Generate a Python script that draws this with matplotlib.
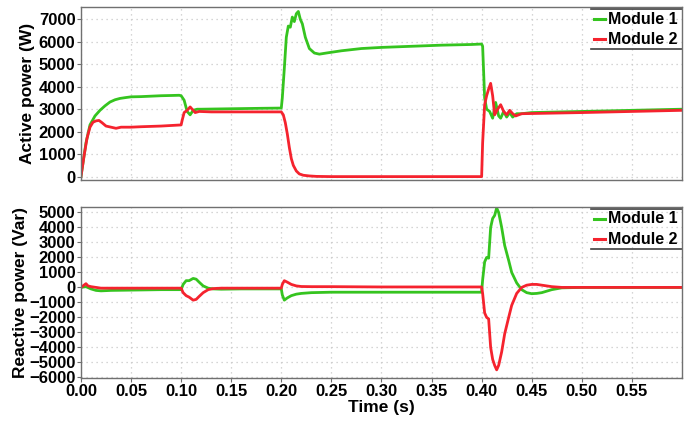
import matplotlib
matplotlib.use('Agg')
import matplotlib.pyplot as plt
import numpy as np

# Active power, module 1 (green)
t_p1 = [0, 0.002, 0.005, 0.009, 0.014, 0.019, 0.024, 0.029, 0.034, 0.039, 0.045, 0.05,
        0.06, 0.07, 0.08, 0.09, 0.098, 0.1, 0.103, 0.106, 0.109, 0.112, 0.116, 0.12,
        0.15, 0.18, 0.2, 0.201, 0.203, 0.205, 0.207, 0.209, 0.211, 0.213, 0.215, 0.217,
        0.219, 0.221, 0.224, 0.228, 0.233, 0.238, 0.245, 0.26, 0.28, 0.3, 0.33, 0.36,
        0.39, 0.4, 0.401, 0.403, 0.405, 0.408, 0.411, 0.414, 0.417, 0.419, 0.422, 0.425,
        0.428, 0.431, 0.435, 0.44, 0.45, 0.5, 0.55, 0.6]
p1 = [0, 600, 1500, 2300, 2700, 2950, 3150, 3320, 3420, 3480, 3520, 3550,
      3560, 3580, 3600, 3610, 3620, 3600, 3400, 2900, 2750, 2950, 3000, 3000,
      3020, 3040, 3050, 3500, 4800, 6200, 6700, 6650, 7100, 6900, 7250, 7350,
      7000, 6800, 6200, 5700, 5500, 5450, 5500, 5600, 5700, 5750, 5800, 5850,
      5880, 5900, 5800, 3500, 3000, 2900, 2600, 3300, 2700, 2600, 2900, 2650,
      2850, 2650, 2800, 2800, 2850, 2900, 2950, 3000]

# Active power, module 2 (red)
t_p2 = [0, 0.003, 0.006, 0.009, 0.012, 0.015, 0.018, 0.021, 0.025, 0.03, 0.035, 0.04,
        0.05, 0.06, 0.08, 0.1, 0.101, 0.103, 0.106, 0.109, 0.111, 0.114, 0.118, 0.13,
        0.16, 0.2, 0.202, 0.204, 0.206, 0.208, 0.21, 0.212, 0.215, 0.218, 0.222, 0.228,
        0.235, 0.25, 0.3, 0.35, 0.4, 0.401, 0.403, 0.405, 0.407, 0.409, 0.411, 0.413,
        0.416, 0.419, 0.422, 0.425, 0.428, 0.431, 0.434, 0.44, 0.5, 0.6]
p2 = [0, 900, 1700, 2200, 2420, 2480, 2500, 2400, 2250, 2200, 2150, 2200,
      2200, 2220, 2250, 2300, 2500, 2850, 2950, 3100, 3000, 2850, 2900, 2880,
      2880, 2880, 2750, 2400, 1900, 1300, 800, 500, 250, 120, 60, 30,
      10, 0, 0, 0, 0, 1500, 3200, 3600, 3900, 4150, 3600, 2750,
      3000, 3200, 2900, 2750, 2950, 2800, 2700, 2800, 2850, 2950]

# Reactive power, module 1 (green)
t_q1 = [0, 0.005, 0.01, 0.015, 0.02, 0.03, 0.05, 0.08, 0.1, 0.102, 0.105, 0.108,
        0.112, 0.115, 0.118, 0.122, 0.127, 0.132, 0.14, 0.16, 0.2, 0.201, 0.203, 0.206,
        0.21, 0.215, 0.22, 0.23, 0.25, 0.3, 0.35, 0.4, 0.401, 0.403, 0.405, 0.407,
        0.409, 0.411, 0.413, 0.415, 0.417, 0.42, 0.423, 0.427, 0.43, 0.435, 0.44, 0.445,
        0.45, 0.455, 0.46, 0.47, 0.48, 0.5, 0.6]
q1 = [0, 50, -100, -200, -230, -200, -180, -150, -150, 200, 450, 450,
      600, 550, 350, 100, -50, -100, -120, -100, -100, -500, -850, -700,
      -550, -450, -400, -350, -320, -320, -320, -320, 500, 1700, 2000, 1950,
      4000, 4600, 4800, 5300, 5000, 4000, 2800, 1800, 1000, 300, -150, -350,
      -420, -400, -350, -150, -30, 0, 0]

# Reactive power, module 2 (red)
t_q2 = [0, 0.003, 0.005, 0.007, 0.01, 0.015, 0.02, 0.03, 0.05, 0.08, 0.1, 0.102,
        0.105, 0.108, 0.112, 0.115, 0.118, 0.122, 0.127, 0.132, 0.14, 0.16, 0.2, 0.201,
        0.203, 0.206, 0.21, 0.215, 0.22, 0.23, 0.25, 0.3, 0.35, 0.4, 0.401, 0.403,
        0.405, 0.407, 0.409, 0.411, 0.413, 0.415, 0.417, 0.42, 0.423, 0.427, 0.43, 0.435,
        0.44, 0.445, 0.45, 0.455, 0.46, 0.47, 0.48, 0.5, 0.6]
q2 = [0, 150, 250, 100, 50, 0, -50, -50, -50, -50, -50, -350,
      -550, -650, -850, -800, -600, -350, -150, -80, -50, -50, -50, 200,
      450, 350, 200, 100, 60, 50, 50, 30, 30, 30, -400, -1700,
      -2000, -2100, -4000, -4800, -5200, -5500, -5200, -4300, -3100, -2000, -1200, -400,
      0, 150, 200, 200, 150, 50, 0, 0, 0]

x_ticks = [0.0, 0.05, 0.1, 0.15, 0.2, 0.25, 0.3, 0.35, 0.4, 0.45, 0.5, 0.55]
p_ticks = [0, 1000, 2000, 3000, 4000, 5000, 6000, 7000]
q_ticks = [-6000, -5000, -4000, -3000, -2000, -1000, 0, 1000, 2000, 3000, 4000, 5000]
series_names = ['Module 1', 'Module 2']

GREEN = '#35c41f'
RED = '#f5232e'

plt.rcParams['font.family'] = ['Liberation Sans', 'DejaVu Sans']
plt.rcParams['font.weight'] = 'bold'

fig = plt.figure(figsize=(6.92, 4.22), dpi=100)
ax1 = fig.add_axes([0.117, 0.5735, 0.8685, 0.41])
ax2 = fig.add_axes([0.117, 0.104, 0.8685, 0.405])


def style_axes(ax, yticks, ylim):
    ax.set_xlim(0, 0.6)
    ax.set_ylim(*ylim)
    ax.set_xticks(x_ticks)
    ax.set_yticks(yticks)
    ax.grid(True, color='#c8c8c8', linestyle=(0, (1, 3)), linewidth=0.9)
    for s in ax.spines.values():
        s.set_color('#707070')
        s.set_linewidth(1.0)
    ax.tick_params(axis='both', labelsize=12, length=3, color='#707070', pad=1)
    for lab in ax.get_yticklabels() + ax.get_xticklabels():
        lab.set_fontweight('bold')


# legend drawn by hand: only a top and bottom rule, the axes spine closes it on the right
def draw_legend(ax, ytop, ybot, colors):
    tr = ax.transAxes
    ax.plot([0.849, 1.0], [ytop, ytop], color='#404040', lw=1.2, transform=tr, clip_on=False)
    ax.plot([0.849, 1.0], [ybot, ybot], color='#404040', lw=1.2, transform=tr, clip_on=False)
    step = (ytop - ybot) / 2
    for i, (name, c) in enumerate(zip(series_names, colors)):
        yc = ytop - step * (i + 0.5)
        ax.plot([0.853, 0.872], [yc, yc], color=c, lw=2.2, transform=tr, clip_on=False)
        ax.text(0.877, yc, name, transform=tr, fontsize=11.5, fontweight='bold',
                va='center', ha='left')


ax1.plot(t_p1, p1, color=GREEN, lw=2)
ax1.plot(t_p2, p2, color=RED, lw=2)
style_axes(ax1, p_ticks, (-150, 7550))
ax1.tick_params(axis='x', labelbottom=False, length=0)
ax1.set_ylabel('Active power (W)', fontsize=12.5, fontweight='bold', labelpad=3)
draw_legend(ax1, 0.988, 0.757, [GREEN, RED])

ax2.plot(t_q1, q1, color=GREEN, lw=2)
ax2.plot(t_q2, q2, color=RED, lw=2)
style_axes(ax2, q_ticks, (-6050, 5350))
ax2.set_ylabel('Reactive power (Var)', fontsize=12.5, fontweight='bold', labelpad=1)
ax2.set_xlabel('Time (s)', fontsize=12.5, fontweight='bold', labelpad=1)
ax2.set_xticklabels(['%.2f' % v for v in x_ticks])
draw_legend(ax2, 0.99, 0.755, [GREEN, RED])

plt.savefig('out.png', dpi=100)
